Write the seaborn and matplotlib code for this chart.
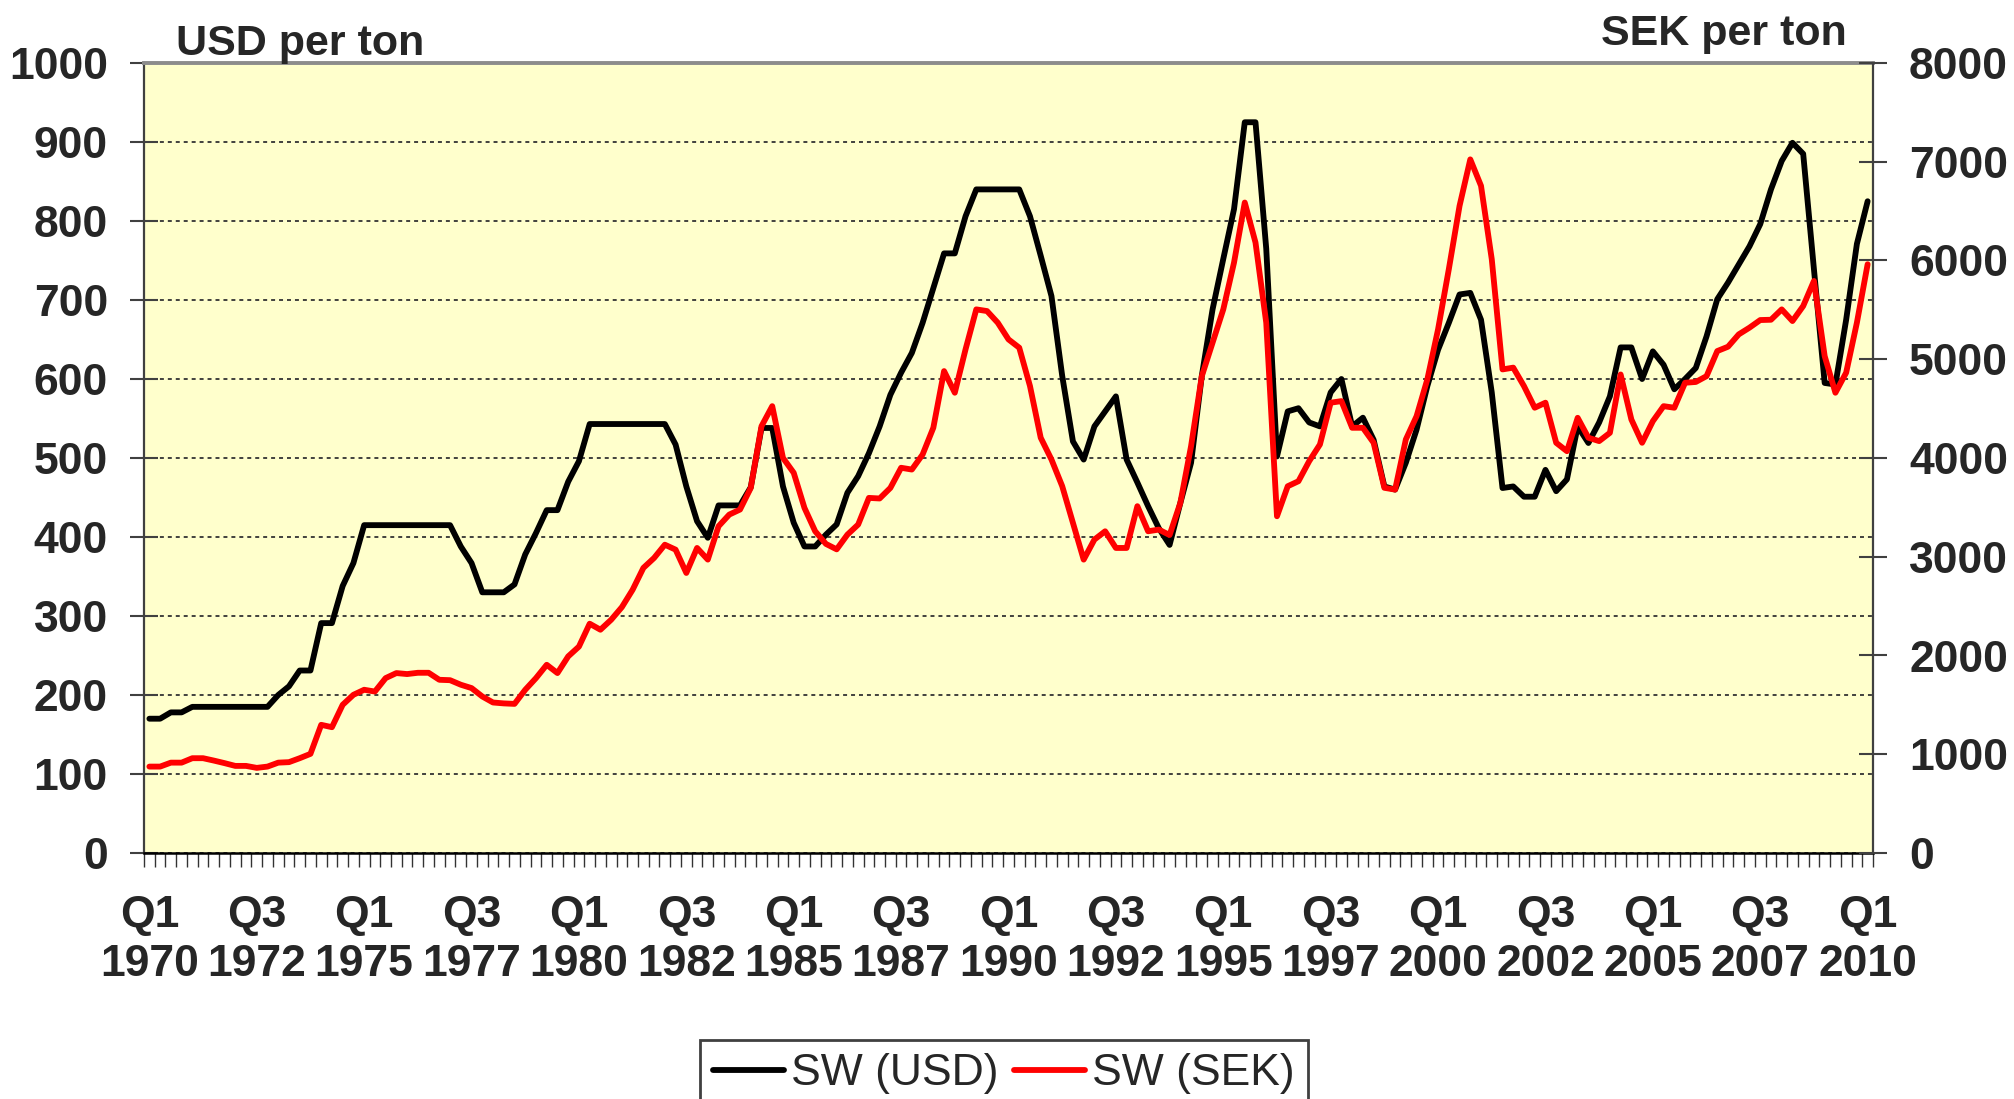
import numpy as np
import pandas as pd
import matplotlib
matplotlib.use("Agg")
import matplotlib.pyplot as plt
import seaborn as sns

# ---------------- data (quarterly, Q1 1970 .. Q1 2010) ----------------
start_year = 1970
usd = [170, 170, 178, 178, 185, 185, 185, 185, 185, 185, 185, 185,
       200, 211, 231, 231, 291, 291, 338, 367,
       415, 415, 415, 415, 415, 415, 415, 415, 415,
       388, 367, 330, 330, 330, 340, 378, 405, 434, 434, 470, 496,
       543, 543, 543, 543, 543, 543, 543, 543,
       517, 464, 420, 399, 440, 440, 440, 463, 538, 538, 464, 418, 388, 388,
       403, 416, 456, 477, 506, 540, 580, 608, 633, 671, 715, 759, 759, 806,
       840, 840, 840, 840, 840,
       806, 756, 705, 604, 521, 498, 540, 559, 578, 498, 469, 439, 411, 390,
       443, 494, 604, 688, 752, 815, 925, 925, 765, 502, 559, 563, 545, 540,
       583, 600, 540, 551, 523, 464, 460, 494, 536, 591, 637, 671, 707, 709,
       675, 583, 462, 464, 451, 451, 485, 458, 473, 540, 519, 545, 578, 640,
       640, 600, 635, 618, 587, 600, 614, 654, 701, 722, 745, 768, 796, 840,
       876, 899, 885, 739, 595, 593, 675, 771, 825]
sek = [875, 875, 915, 915, 960, 960, 936, 910, 882, 882, 862, 875,
       915, 920, 960, 1004, 1298, 1274, 1501, 1602,
       1653, 1635, 1771, 1822, 1812, 1825, 1825, 1754, 1750,
       1704, 1670, 1585, 1524, 1515, 1510, 1653, 1771, 1906, 1822, 1991, 2090,
       2322, 2261, 2362, 2490, 2666, 2887, 2988, 3122,
       3072, 2836, 3089, 2971, 3309, 3427, 3478, 3697, 4322, 4525, 4001, 3850,
       3495, 3258, 3130, 3075, 3224, 3326, 3596, 3590, 3697, 3901, 3883, 4035,
       4306, 4880, 4661, 5100, 5505, 5488, 5370, 5201, 5117,
       4729, 4205, 3985, 3715, 3343, 2971, 3174, 3258, 3089, 3089, 3512, 3258,
       3275, 3220, 3545, 4120, 4829, 5168, 5505, 5979, 6587, 6182, 5370, 3410,
       3714, 3765, 3968, 4137, 4560, 4576, 4306, 4306, 4154, 3698, 3680, 4188,
       4424, 4796, 5303, 5911, 6553, 7024, 6756, 6013, 4897, 4915, 4728, 4509,
       4560, 4154, 4069, 4407, 4205, 4171, 4255, 4846, 4390, 4154, 4373, 4525,
       4509, 4762, 4770, 4829, 5083, 5127, 5252, 5320, 5397, 5400, 5505, 5387,
       5539, 5793, 5032, 4661, 4864, 5370, 5962]
series_names = ["SW (USD)", "SW (SEK)"]
left_title = "USD per ton"
right_title = "SEK per ton"

n = len(usd)
assert n == len(sek) == 161
quarters = [f"Q{i % 4 + 1} {start_year + i // 4}" for i in range(n)]
label_idx = list(range(0, n, 10))
tick_labels = [f"Q{i % 4 + 1}\n{start_year + i // 4}" for i in label_idx]

df = pd.DataFrame({"idx": np.arange(n), "quarter": quarters, "usd": usd, "sek": sek})

# ---------------- style ----------------
sns.set_theme(style="white")
plt.rcParams["font.family"] = ["Liberation Sans", "DejaVu Sans"]
plt.rcParams["font.weight"] = "bold"

W, H = 2015, 1099
fig = plt.figure(figsize=(W / 100, H / 100), dpi=100)
fig.patch.set_facecolor("white")
L, R, T, B = 144, 1873, 63, 853
ax = fig.add_axes([L / W, 1 - B / H, (R - L) / W, (B - T) / H])
ax.set_facecolor("#FFFFCC")

sns.lineplot(data=df, x="idx", y="usd", ax=ax, color="black", lw=4.2,
             label=series_names[0], legend=False)
ax2 = ax.twinx()
sns.lineplot(data=df, x="idx", y="sek", ax=ax2, color="#FF0000", lw=4.2,
             label=series_names[1], legend=False)

ax.set_xlim(-0.5, n - 0.5)
ax.set_ylim(0, 1000)
ax2.set_ylim(0, 8000)
ax.set_xlabel("")
ax.set_ylabel("")
ax2.set_ylabel("")

# gridlines
ax.set_yticks(np.arange(0, 1001, 100))
ax.yaxis.grid(True, linestyle=(0, (2.2, 2.2)), color="#333333", lw=1.3)
ax.xaxis.grid(False)
ax2.grid(False)
ax2.set_yticks(np.arange(0, 8001, 1000))

# y ticks
ax.tick_params(axis="y", which="major", left=True, direction="inout", length=20,
               width=1.5, color="#404040", labelsize=32, pad=16)
ax2.tick_params(axis="y", which="major", right=True, direction="inout", length=20,
                width=1.5, color="#404040", labelsize=32, pad=16)

# x ticks
ax.set_xticks(label_idx)
ax.set_xticklabels(tick_labels, linespacing=1.25)
ax.set_xticks(np.arange(-0.5, n, 1.0), minor=True)
ax.tick_params(axis="x", which="major", bottom=True, length=0, labelsize=32, pad=30)
ax.tick_params(axis="x", which="minor", bottom=True, direction="out", length=10,
               width=1.0, color="#333333")

# spines
for s in ["top", "left", "bottom", "right"]:
    ax2.spines[s].set_visible(False)
ax.spines["right"].set_visible(False)
ax.spines["top"].set_color("#8c8c8c")
ax.spines["top"].set_linewidth(2.8)
ax.spines["left"].set_color("#404040")
ax.spines["left"].set_linewidth(1.6)
ax.spines["bottom"].set_color("black")
ax.spines["bottom"].set_linewidth(1.8)
ax2.spines["right"].set_visible(True)
ax2.spines["right"].set_color("#404040")
ax2.spines["right"].set_linewidth(1.6)

# axis titles
fig.text(176 / W, 1 - 55 / H, left_title, ha="left", va="baseline",
         fontsize=31, fontweight="bold")
fig.text(1847 / W, 1 - 45 / H, right_title, ha="right", va="baseline",
         fontsize=31, fontweight="bold")

# legend
h1 = ax.get_lines()[0]
h2 = ax2.get_lines()[0]
leg = fig.legend([h1, h2], series_names, loc="upper center",
                 bbox_to_anchor=(1004 / W, 1 - 1040 / H), ncol=2,
                 prop={"size": 32, "weight": "normal"}, frameon=True,
                 fancybox=False, edgecolor="#404040", framealpha=1,
                 handlelength=1.6, handletextpad=0.15, columnspacing=0.35,
                 borderpad=0.3, borderaxespad=0)
leg.get_frame().set_linewidth(2.0)

fig.savefig("out.png", dpi=100, facecolor="white")
